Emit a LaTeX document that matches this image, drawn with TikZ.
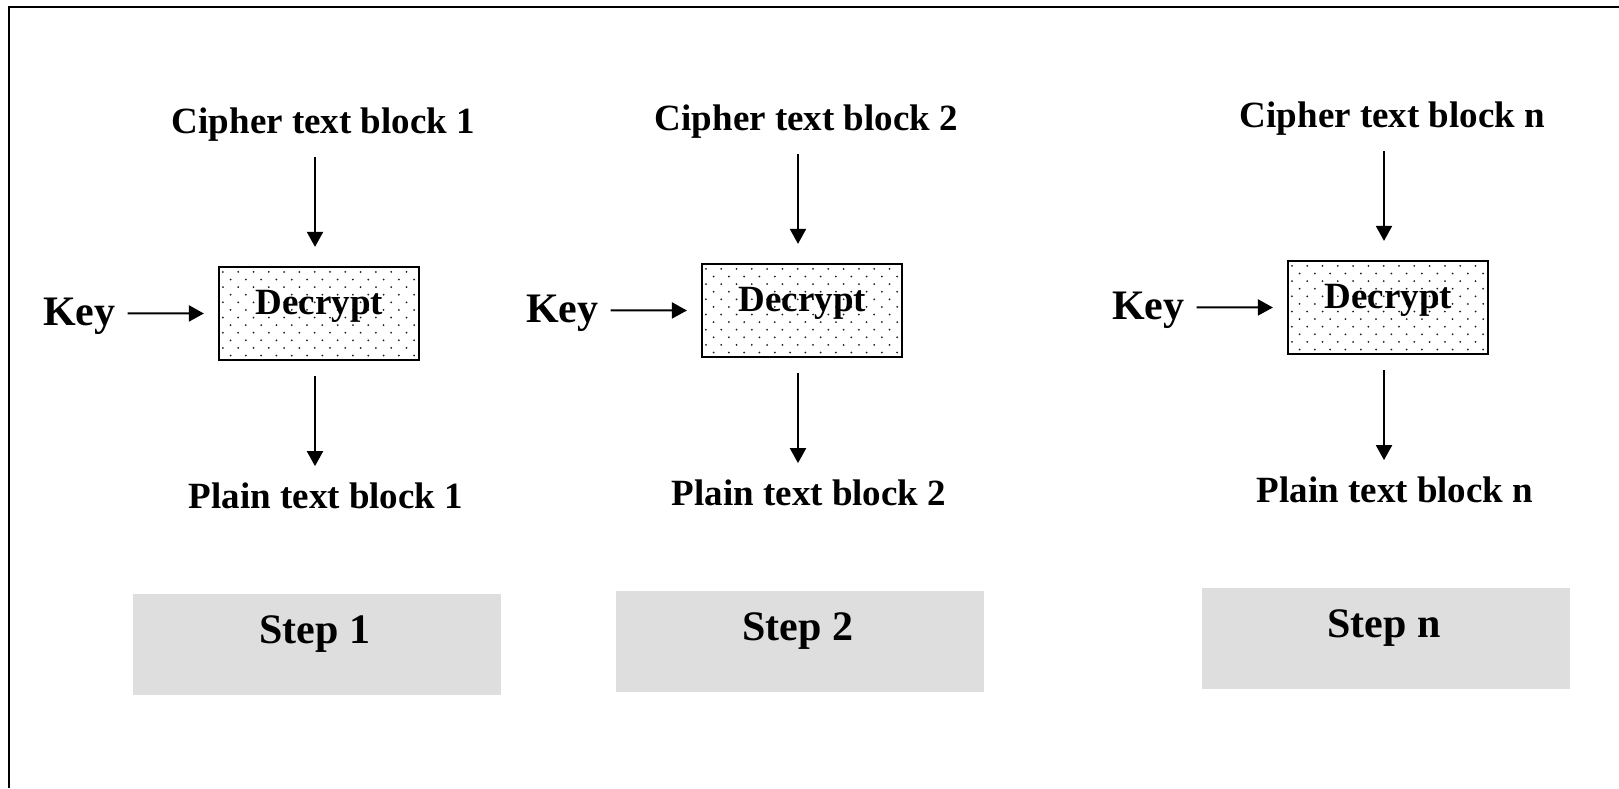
\documentclass[tikz,border=0pt]{standalone}
\usepackage{fontspec}
\setmainfont{Liberation Serif}
\usetikzlibrary{arrows.meta,calc}
\definecolor{stepgray}{RGB}{222,222,222}
\definecolor{dotgray}{RGB}{30,30,30}
\begin{document}
\begin{tikzpicture}[x=1pt,y=-1pt,
  lbl/.style={inner sep=0pt,anchor=base,font=\fontsize{37}{44}\selectfont\bfseries},
  big/.style={inner sep=0pt,anchor=base,font=\fontsize{42}{50}\selectfont\bfseries},
  decbox/.style={draw,line width=2.2pt,fill=white,minimum width=200pt,minimum height=93pt,inner sep=0pt},
  stepbox/.style={fill=stepgray,minimum width=368pt,minimum height=101pt,inner sep=0pt},
  arr/.style={line width=2pt,-{Triangle[length=15pt,width=16pt]}}]

\useasboundingbox (0,0) rectangle (1619,788);
% frame along the top and left edges
\draw[line width=2pt] (9,788) -- (9,7) -- (1619,7);

\foreach \i/\dx/\dy/\lab in {1/0/0/1, 2/483/-3/2, 3/1069/-6/n}{
  \begin{scope}[shift={(\dx,\dy)}]
    \node[lbl] (c\i) at (323.5,133) {Cipher text block \lab};
    \node[decbox] (d\i) at (319,313.5) {};
    % dotted fill of the decrypt box
    \begin{scope}
      \clip ([shift={(1,-1)}]d\i.south west) rectangle ([shift={(-1,1)}]d\i.north east);
      \foreach \r in {0,...,12}{
        \foreach \c in {0,...,13}{
          \pgfmathsetmacro{\px}{5+\c*15.3+mod(\r,2)*7.65}
          \pgfmathsetmacro{\py}{6+\r*7.6}
          \fill[dotgray] ($(d\i.north west)+(\px,\py)$) circle (1pt);
        }
      }
    \end{scope}
    \node[lbl] (t\i) at (319.5,314) {Decrypt};
    \node[big,anchor=base west] (k\i) at (43,325) {Key};
    \node[lbl] (p\i) at (326,508) {Plain text block \lab};
    \node[stepbox] (s\i) at (317,644.5) {};
    \node[big] (st\i) at (315,643) {Step \lab};
    \draw[arr] ([shift={(-8.5,16)}]c\i.south) -- ([shift={(-4,-19)}]d\i.north);
    \draw[arr] ([shift={(12,-11.7)}]k\i.base east) -- ([shift={(-14,0)}]d\i.west);
    \draw[arr] ([shift={(-4,15)}]d\i.south) -- ([shift={(-11,-16)}]p\i.north);
  \end{scope}
}
\end{tikzpicture}
\end{document}
